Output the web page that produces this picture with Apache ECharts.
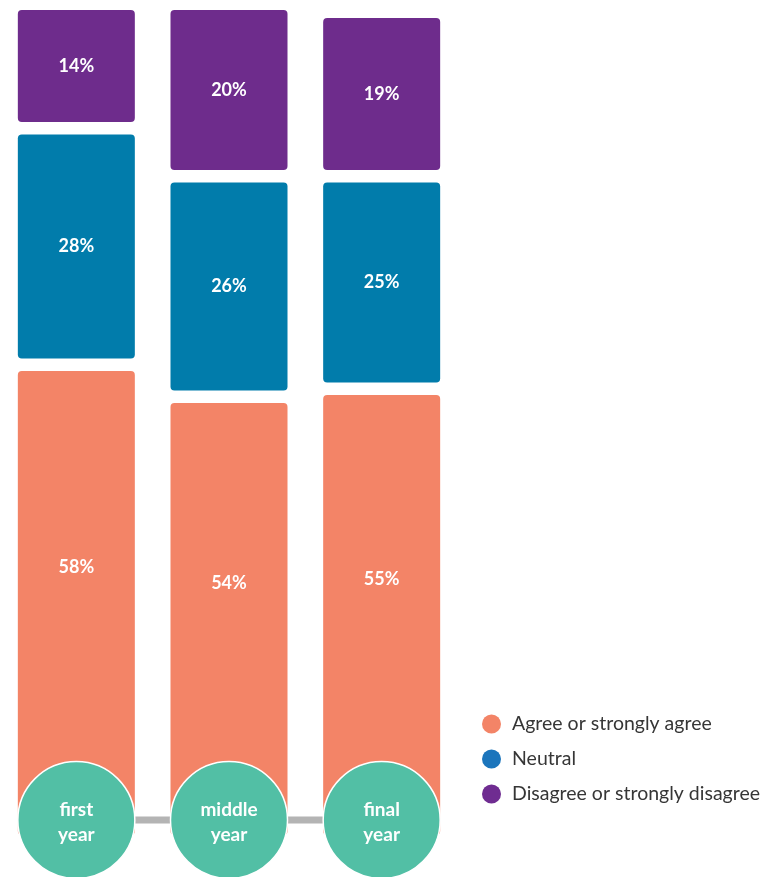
<!DOCTYPE html>
<html><head><meta charset="utf-8">
<script src="https://cdn.jsdelivr.net/npm/echarts@6/dist/echarts.min.js"></script>
<style>html,body{margin:0;padding:0;background:#fff}#c{width:761px;height:877px}</style>
</head><body><div id="c"></div><script>
const categories = ['first\nyear', 'middle\nyear', 'final\nyear'];
const seriesNames = ['Agree or strongly agree', 'Neutral', 'Disagree or strongly disagree'];
const agree = [58, 54, 55];
const neutral = [28, 26, 25];
const disagree = [14, 20, 19];

const valueSets = [agree, neutral, disagree];
const colors = ['#F38467', '#017CAB', '#6E2C8C'];
const legendColors = ['#F38467', '#1B75BC', '#6F2C91'];
const GAP = 12.5, BAR_W = 117, CIRCLE_TOP = 763;
const FONT = 'Lato, "Open Sans", sans-serif';

function makeRender(sIdx, n) {
  const shift = GAP * (n - 1 - sIdx);
  return function (params, api) {
    const c = api.value(0), y0 = api.value(1), y1 = api.value(2), v = api.value(3);
    const pTop = api.coord([c, y1]);
    const pBot = api.coord([c, y0]);
    const top = pTop[1] + shift, bot = pBot[1] + shift;
    const h = bot - top;
    const labelH = sIdx === 0 ? Math.min(h, CIRCLE_TOP - top) : h;
    return {
      type: 'rect',
      shape: { x: pTop[0] - BAR_W / 2, y: top, width: BAR_W, height: h, r: 4 },
      style: { fill: api.visual('color') },
      textContent: {
        style: { text: v + '%', fill: '#fff', font: 'bold 18px ' + FONT, align: 'center', verticalAlign: 'middle' }
      },
      textConfig: { position: [BAR_W / 2, labelH / 2] }
    };
  };
}

const cum = categories.map(() => 0);
const barSeries = valueSets.map((vals, s) => {
  const data = vals.map((v, i) => {
    const start = cum[i];
    cum[i] += v;
    return [i, start, start + v, v];
  });
  return {
    type: 'custom',
    name: seriesNames[s],
    xAxisIndex: 0, yAxisIndex: 0,
    itemStyle: { color: colors[s] },
    encode: { x: 0, y: [1, 2] },
    renderItem: makeRender(s, valueSets.length),
    data: data,
    z: 2
  };
});

const option = {
  animation: false,
  backgroundColor: '#fff',
  grid: [
    { left: -1, right: 303, top: 10, bottom: 67 },
    { left: -1, right: 303, top: 763, height: 116 }
  ],
  xAxis: [
    { type: 'category', gridIndex: 0, data: categories, show: false },
    { type: 'category', gridIndex: 1, data: categories, show: false }
  ],
  yAxis: [
    { type: 'value', gridIndex: 0, min: 0, max: 100, show: false },
    { type: 'value', gridIndex: 1, min: 0, max: 1, show: false }
  ],
  legend: {
    orient: 'vertical', left: 482, top: 714, padding: 0,
    icon: 'circle', itemWidth: 19, itemHeight: 19, itemGap: 15,
    textStyle: { fontSize: 19.5, lineHeight: 19, color: '#363636', fontFamily: FONT, padding: [0, 0, 0, 6] },
    data: seriesNames.map((n, i) => ({ name: n, itemStyle: { color: legendColors[i] } }))
  },
  series: barSeries.concat([
    {
      type: 'line', xAxisIndex: 1, yAxisIndex: 1,
      data: categories.map(() => 0.5),
      symbol: 'none', silent: true,
      lineStyle: { color: '#B4B4B4', width: 7 },
      z: 1
    },
    {
      type: 'scatter', xAxisIndex: 1, yAxisIndex: 1,
      data: categories.map(() => 0.5),
      symbolSize: 117,
      itemStyle: { color: '#52BFA5', borderColor: '#fff', borderWidth: 1.5, opacity: 1 },
      label: {
        show: true, position: 'inside',
        formatter: p => categories[p.dataIndex],
        color: '#fff', fontWeight: 'bold', fontSize: 19, lineHeight: 25,
        fontFamily: FONT, offset: [0, 2]
      },
      z: 3
    }
  ])
};

const chart = echarts.init(document.getElementById('c'), null, { renderer: 'canvas' });
chart.setOption(option);
</script></body></html>
